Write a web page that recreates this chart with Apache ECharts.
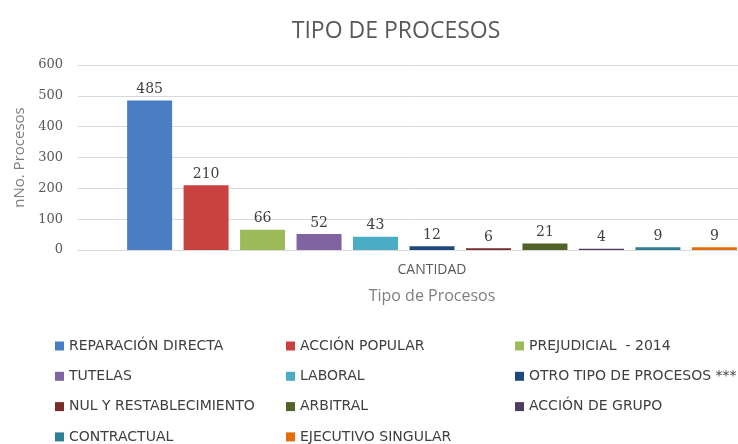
<!DOCTYPE html>
<html>
<head>
<meta charset="utf-8">
<script src="https://cdn.jsdelivr.net/npm/echarts@6/dist/echarts.min.js"></script>
<style>html,body{margin:0;padding:0;background:#fff;}#chart{width:738px;height:444px;}</style>
</head>
<body>
<div id="chart"></div>
<script>
const categories = ['CANTIDAD'];
const seriesNames = ['REPARACIÓN DIRECTA','ACCIÓN POPULAR','PREJUDICIAL  - 2014','TUTELAS','LABORAL','OTRO TIPO DE PROCESOS ***','NUL Y RESTABLECIMIENTO','ARBITRAL','ACCIÓN DE GRUPO','CONTRACTUAL','EJECUTIVO SINGULAR'];
const seriesValues = [485, 210, 66, 52, 43, 12, 6, 21, 4, 9, 9];
const seriesColors = ['#4A7EC4','#C8423F','#9BBB59','#8064A2','#4BACC6','#1F497D','#772C2A','#4F6228','#4D3B62','#2E7F93','#E46C0A'];
const yTicks = [0, 100, 200, 300, 400, 500, 600];
const legendCol1 = ['REPARACIÓN DIRECTA','TUTELAS','NUL Y RESTABLECIMIENTO','CONTRACTUAL'];
const legendCol2 = ['ACCIÓN POPULAR','LABORAL','ARBITRAL','EJECUTIVO SINGULAR'];
const legendCol3 = ['PREJUDICIAL  - 2014','OTRO TIPO DE PROCESOS ***','ACCIÓN DE GRUPO'];

const chart = echarts.init(document.getElementById('chart'), null, {renderer:'canvas'});
const legendText = {fontFamily:'"DejaVu Sans",sans-serif', fontSize:14, color:'#404040', lineHeight:14};
function mkLegend(data, left){
  return {data, left, top:339, orient:'vertical', itemWidth:9, itemHeight:9, itemGap:16.3,
    padding:0, height:140, icon:'rect', textStyle:legendText, selectedMode:false};
}
const option = {
  animation:false,
  title:{text:'TIPO DE PROCESOS', left:391, textAlign:'center', top:15,
    textStyle:{fontFamily:'"Open Sans","Noto Sans",sans-serif', fontSize:23, fontWeight:'normal', color:'#595959'}},
  legend:[mkLegend(legendCol1,55), mkLegend(legendCol2,286), mkLegend(legendCol3,515)],
  grid:{left:78, width:708, top:65, bottom:194, containLabel:false, outerBoundsMode:'none'},
  xAxis:{type:'category', data:categories,
    name:'Tipo de Procesos', nameLocation:'middle', nameGap:38,
    nameTextStyle:{fontFamily:'"Open Sans","Noto Sans",sans-serif', fontSize:16, color:'#7F7F7F'},
    axisLine:{lineStyle:{color:'#D9D9D9'}}, axisTick:{show:false},
    axisLabel:{margin:13, fontFamily:'"Open Sans","Noto Sans",sans-serif', fontSize:14, color:'#595959'}},
  yAxis:{type:'value', min:yTicks[0], max:yTicks[yTicks.length-1], interval:100,
    name:'nNo. Procesos', nameLocation:'middle', nameGap:48, nameRotate:90,
    nameTextStyle:{fontFamily:'"Open Sans","Noto Sans",sans-serif', fontSize:15, color:'#7F7F7F'},
    axisLine:{show:false}, axisTick:{show:false},
    axisLabel:{margin:15, fontFamily:'"DejaVu Serif","Liberation Serif",serif', fontSize:13, color:'#595959'},
    splitLine:{lineStyle:{color:'#D9D9D9', width:1}}},
  series: seriesNames.map((n,i)=>({
    name:n, type:'bar', data:[seriesValues[i]], barWidth:45, barGap:'25.5%',
    itemStyle:{color:seriesColors[i]},
    label:{show:true, position:'top', distance:4, fontFamily:'"DejaVu Serif","Liberation Serif",serif', fontSize:14, color:'#404040'}
  }))
};
chart.setOption(option);
</script>
</body>
</html>
